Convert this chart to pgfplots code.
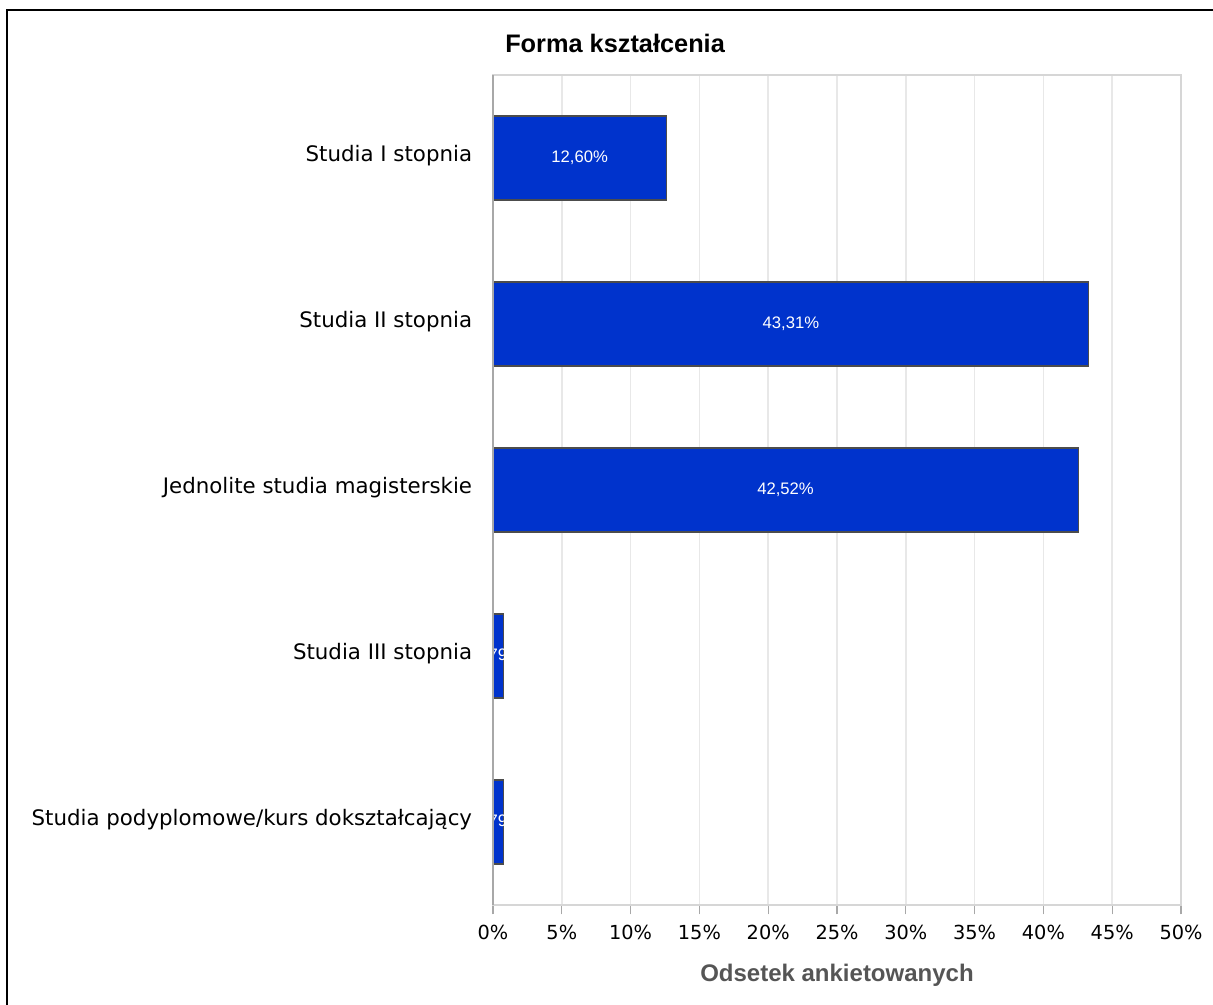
\documentclass[border=0pt]{standalone}
\usepackage{pgfplots}
\pgfplotsset{compat=1.18}
\usepackage{fontspec}
\setmainfont{DejaVu Sans}
\newfontfamily\arialfont{Liberation Sans}
\definecolor{barblue}{HTML}{0033CC}
\definecolor{gridgray}{HTML}{E8E8E8}
\definecolor{boxgray}{HTML}{D6D6D6}
\definecolor{axgray}{HTML}{A8A8A8}
\definecolor{labgray}{HTML}{555555}

\begin{document}
\begin{tikzpicture}
% picture frame: 1213x1005 px at 0.75pt/px, axis rectangle starts at (0,0)
\path[use as bounding box] (-369.75pt,-75pt) rectangle (540pt,678.75pt);
\begin{axis}[
    at={(0,0)}, anchor=south west,
    x=10.32pt, y=124.5pt,
    y dir=reverse,
    xmin=0, xmax=50,
    ymin=-0.5, ymax=4.5,
    enlargelimits=false,
    xbar, bar width=63pt,
    axis line style={boxgray, line width=1.2pt},
    xmajorgrids, grid style={gridgray, line width=1.2pt},
    xtick={0,5,...,50},
    xtick pos=bottom,
    xticklabels={0\%,5\%,10\%,15\%,20\%,25\%,30\%,35\%,40\%,45\%,50\%},
    xtick style={axgray, line width=1pt},
    major tick length=7pt,
    tick align=outside,
    x tick label style={font=\fontsize{14.5}{16}\selectfont, anchor=base, inner sep=0pt, yshift=-19pt},
    ytick={0,...,4},
    yticklabels={Studia I stopnia, Studia II stopnia, Jednolite studia magisterskie, Studia III stopnia, Studia podyplomowe/kurs dokształcający},
    ytick style={draw=none},
    y tick label style={font=\fontsize{16}{18}\selectfont, anchor=mid east, inner sep=0pt, xshift=-8.5pt},
    title={\arialfont\bfseries Forma kształcenia},
    title style={at={(0,1)}, anchor=base west, xshift=9pt, yshift=11pt, font=\fontsize{19}{21}\selectfont, inner sep=0pt},
    xlabel={\arialfont\bfseries Odsetek ankietowanych},
    xlabel style={at={(0.5,0)}, anchor=base, yshift=-57pt, font=\fontsize{18}{20}\selectfont, text=labgray, inner sep=0pt},
    point meta=explicit symbolic,
    visualization depends on={rawx \as \rawx},
    nodes near coords,
    every node near coord/.append style={anchor=center, text=white, font=\arialfont\fontsize{12.5}{14}\selectfont, xshift={-5.16pt*\rawx}},
]
\addplot[fill=barblue, draw=black!70, line width=0.8pt] coordinates {
    (12.60,0) [12,60\%]
    (43.31,1) [43,31\%]
    (42.52,2) [42,52\%]
    (0.79,3) [0,79\%]
    (0.79,4) [0,79\%]
};
\end{axis}
\draw[axgray, line width=1.2pt] (0,0) -- (0,622.5pt);
% outer frame (top and left edges only)
\draw[black, line width=2pt] (-364.5pt,-75pt) -- (-364.5pt,671.25pt) -- (540pt,671.25pt);
\end{tikzpicture}
\end{document}
